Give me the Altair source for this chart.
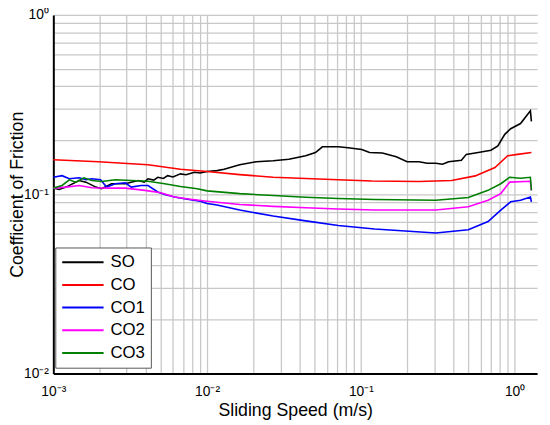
import altair as alt
import pandas as pd

names = ["SO", "CO", "CO1", "CO2", "CO3"]
colors = ["#000000", "#ff0000", "#0000ff", "#ff00ff", "#008000"]

so_x = [0.001, 0.00109, 0.00121, 0.00147, 0.00163, 0.00189, 0.00206, 0.00239, 0.00294,
        0.00356, 0.0039, 0.00413, 0.0045, 0.00478, 0.0052, 0.00554, 0.006, 0.00671, 0.0073,
        0.00826, 0.009, 0.01, 0.0116, 0.0129, 0.0163, 0.0209, 0.0269, 0.034, 0.0438, 0.0507,
        0.0562, 0.0713, 0.0826, 0.1014, 0.114, 0.138, 0.170, 0.200, 0.239, 0.27, 0.307, 0.34,
        0.372, 0.451, 0.485, 0.580, 0.702, 0.778, 0.863, 0.943, 1.093, 1.267, 1.286]
so_y = [0.1083, 0.1065, 0.1097, 0.1194, 0.1169, 0.1097, 0.1074, 0.1145, 0.1145,
        0.1194, 0.1170, 0.1220, 0.1200, 0.1245, 0.1225, 0.1270, 0.1250, 0.1300, 0.1285,
        0.1327, 0.1315, 0.1340, 0.1355, 0.1380, 0.1460, 0.1520, 0.1540, 0.1570, 0.1640, 0.1710,
        0.1840, 0.1840, 0.1820, 0.1780, 0.1710, 0.1700, 0.1620, 0.1520, 0.1520, 0.1490, 0.1490, 0.1470,
        0.1520, 0.1550, 0.1670, 0.1710, 0.1760, 0.1860, 0.2160, 0.2320, 0.2480, 0.2920, 0.2550]

co_x = [0.001, 0.00197, 0.00413, 0.00671, 0.01, 0.0163, 0.0269, 0.0438, 0.0713, 0.118,
        0.239, 0.389, 0.555, 0.745, 0.902, 1.045, 1.286]
co_y = [0.156, 0.152, 0.146, 0.138, 0.134, 0.1288, 0.1245, 0.1225, 0.1205, 0.1185,
        0.1179, 0.1194, 0.1267, 0.141, 0.164, 0.167, 0.171]

co1_x = [0.001, 0.00114, 0.00127, 0.00147, 0.00163, 0.00178, 0.00203, 0.00222, 0.00253,
         0.00294, 0.00321, 0.00372, 0.00413, 0.00478, 0.0053, 0.00614, 0.00745, 0.00902,
         0.01, 0.0116, 0.0163, 0.0269, 0.0438, 0.0713, 0.123, 0.307, 0.5, 0.672, 0.813,
         0.943, 1.093, 1.267, 1.286]
co1_y = [0.1245, 0.127, 0.122, 0.1236, 0.1205, 0.122, 0.1205, 0.1097, 0.1145,
         0.116, 0.1097, 0.112, 0.112, 0.103, 0.0996, 0.0966, 0.0939, 0.0916,
         0.0889, 0.0871, 0.0817, 0.0757, 0.0711, 0.067, 0.064, 0.0608, 0.0634, 0.0705, 0.0817,
         0.0908, 0.0927, 0.0966, 0.0908]

co2_x = [0.001, 0.00121, 0.00147, 0.00178, 0.00229, 0.00294, 0.00394, 0.005, 0.00614,
         0.00778, 0.01, 0.0163, 0.0269, 0.0438, 0.0713, 0.123, 0.307, 0.5, 0.672, 0.813,
         0.929, 1.267, 1.286]
co2_y = [0.1083, 0.1097, 0.112, 0.1089, 0.1083, 0.1083, 0.1052, 0.1021, 0.0966,
         0.0939, 0.0915, 0.0878, 0.0856, 0.0841, 0.0828, 0.0817, 0.0817, 0.0852, 0.0927, 0.1009,
         0.1169, 0.1183, 0.1052]

co3_x = [0.001, 0.00114, 0.00127, 0.0014, 0.00158, 0.00178, 0.00206, 0.00253, 0.00321,
         0.00413, 0.0053, 0.00671, 0.00863, 0.01, 0.0163, 0.0269, 0.0438, 0.0713, 0.123,
         0.307, 0.5, 0.672, 0.813, 0.929, 1.093, 1.267, 1.286]
co3_y = [0.1083, 0.112, 0.1205, 0.1169, 0.1236, 0.1194, 0.1179, 0.1205, 0.1194,
         0.1183, 0.1145, 0.1106, 0.1074, 0.1045, 0.1009, 0.0984, 0.0963, 0.0947, 0.0935,
         0.0927, 0.0959, 0.1052, 0.1145, 0.1245, 0.123, 0.1245, 0.1052]

series = [("SO", so_x, so_y), ("CO", co_x, co_y), ("CO1", co1_x, co1_y),
          ("CO2", co2_x, co2_y), ("CO3", co3_x, co3_y)]
rows = []
for name, xs, ys in series:
    for i, (xv, yv) in enumerate(zip(xs, ys)):
        rows.append({"series": name, "speed": xv, "cof": yv, "i": i})
df = pd.DataFrame(rows)

x_ticks = [k * 10.0 ** d for d in (-3, -2, -1) for k in range(1, 10)] + [1.0]
y_ticks = [k * 10.0 ** d for d in (-2, -1) for k in range(1, 10)] + [1.0]

x_label = ("datum.value == 0.001 ? '10⁻³' : datum.value == 0.01 ? '10⁻²' : "
           "datum.value == 0.1 ? '10⁻¹' : datum.value == 1 ? '10⁰' : ''")
y_label = ("datum.value == 0.01 ? '10⁻²' : datum.value == 0.1 ? '10⁻¹' : "
           "datum.value == 1 ? '10⁰' : ''")

chart = alt.Chart(df).mark_line(strokeWidth=1.6).encode(
    x=alt.X("speed:Q",
            scale=alt.Scale(type="log", domain=[0.001, 1.4], nice=False),
            axis=alt.Axis(values=x_ticks, labelExpr=x_label, title="Sliding Speed (m/s)",
                          labelPadding=11, titlePadding=4, labelFlush=False)),
    y=alt.Y("cof:Q",
            scale=alt.Scale(type="log", domain=[0.01, 1], nice=False),
            axis=alt.Axis(values=y_ticks, labelExpr=y_label, title="Coefficient of Friction",
                          labelPadding=5, titleX=-31, titleY=182, titleBaseline="alphabetic",
                          titleAlign="center", labelFlush=False)),
    color=alt.Color("series:N",
                    scale=alt.Scale(domain=names, range=colors),
                    legend=alt.Legend(orient="none", legendX=2, legendY=236, title=None,
                                      symbolType="stroke", symbolSize=1764, clipHeight=18,
                                      symbolStrokeWidth=2, labelFontSize=17,
                                      labelFont="Liberation Sans", labelColor="black",
                                      fillColor="white", strokeColor="#555555",
                                      padding=6, rowPadding=5, labelOffset=6)),
    order="i:Q",
).properties(
    width=491, height=364,
    autosize=alt.AutoSizeParams(type="none"),
    padding={"left": 46, "top": 4, "right": 5, "bottom": 45},
).configure_view(stroke=None).configure_axis(
    gridColor="#c8c8c8", gridWidth=1.3, gridOpacity=1,
    domainColor="black", domainWidth=2, ticks=False,
    labelFont="Liberation Sans", labelFontSize=14, labelColor="black",
    titleFont="Liberation Sans", titleFontSize=18, titleFontWeight="normal", titleColor="black",
)

chart.save("out.html", embed_options={"renderer": "svg", "actions": False})
